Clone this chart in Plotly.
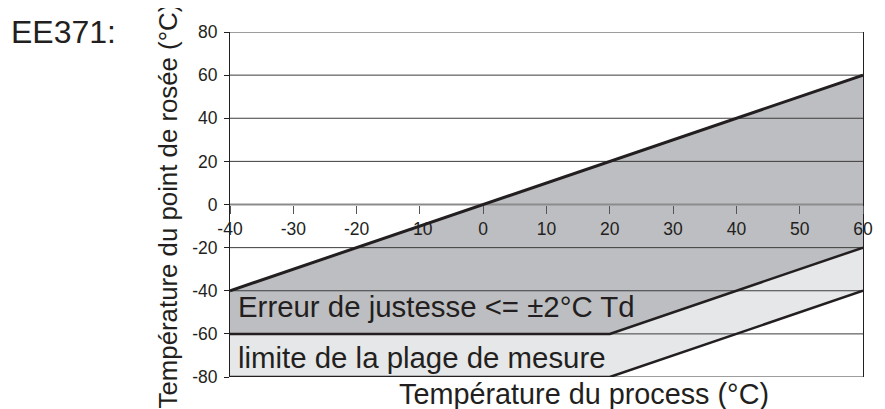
import plotly.graph_objects as go

# ---- data ----
x_ticks = [-40, -30, -20, -10, 0, 10, 20, 30, 40, 50, 60]
x_tick_labels = ["-40", "-30", "-20", "-10", "0", "10", "20", "30", "40", "50", "60"]
y_ticks = [80, 60, 40, 20, 0, -20, -40, -60, -80]
y_tick_labels = ["80", "60", "40", "20", "0", "-20", "-40", "-60", "-80"]

# upper limit of the accuracy zone (dew point = process temperature)
upper_x = [-40, 60]
upper_y = [-40, 60]

# lower limit of the accuracy zone (±2°C Td)
acc_x = [-40, 20, 60]
acc_y = [-60, -60, -20]

# lower limit of the measuring range
rng_x = [-40, 20, 60]
rng_y = [-80, -80, -40]

label_acc = "Erreur de justesse <= ±2°C Td"
label_rng = "limite de la plage de mesure"
title_x = "Température du process (°C)"
title_y = "Température du point de rosée (°C)"
model = "EE371:"

DARK = "#bdbec1"
LIGHT = "#e6e7e8"
INK = "#231f20"
GRID = "#3c3c3c"
FONT = "Liberation Sans, Arial, sans-serif"

fig = go.Figure()

# dark zone: upper limit line then back along accuracy limit
fig.add_trace(go.Scatter(
    x=upper_x + acc_x[::-1], y=upper_y + acc_y[::-1],
    fill="toself", fillcolor=DARK, line=dict(width=0),
    mode="lines", hoverinfo="skip", showlegend=False))

# light zone: between accuracy limit and measuring range limit
fig.add_trace(go.Scatter(
    x=acc_x + rng_x[::-1], y=acc_y + rng_y[::-1],
    fill="toself", fillcolor=LIGHT, line=dict(width=0),
    mode="lines", hoverinfo="skip", showlegend=False))

# grid lines drawn above the fills
for v in y_ticks:
    if v == 0:
        continue
    fig.add_trace(go.Scatter(
        x=[x_ticks[0], x_ticks[-1]], y=[v, v], mode="lines",
        line=dict(color=GRID, width=1), hoverinfo="skip", showlegend=False))

# zero line
fig.add_trace(go.Scatter(
    x=[x_ticks[0], x_ticks[-1]], y=[0, 0], mode="lines",
    line=dict(color="#8c8c8c", width=2), hoverinfo="skip", showlegend=False))

# boundary lines
fig.add_trace(go.Scatter(x=upper_x, y=upper_y, mode="lines",
                         line=dict(color=INK, width=3), hoverinfo="skip", showlegend=False))
fig.add_trace(go.Scatter(x=acc_x, y=acc_y, mode="lines",
                         line=dict(color=INK, width=2.5), hoverinfo="skip", showlegend=False))
fig.add_trace(go.Scatter(x=rng_x, y=rng_y, mode="lines",
                         line=dict(color=INK, width=2.5), hoverinfo="skip", showlegend=False))

# the page body adds an 8px offset, so the figure is 8px smaller than the window
fig.update_layout(
    width=877, height=401,
    margin=dict(l=222, r=12, t=24, b=32),
    paper_bgcolor="white", plot_bgcolor="white",
    font=dict(family=FONT, color=INK),
    showlegend=False,
    xaxis=dict(
        range=[x_ticks[0], x_ticks[-1]], tickvals=x_ticks, ticktext=x_tick_labels,
        anchor="free", position=0.5,
        showgrid=False, zeroline=False, showline=False,
        ticks="outside", ticklen=8, tickcolor="#555555", tickwidth=1,
        tickfont=dict(size=17.5, color=INK, family=FONT),
    ),
    yaxis=dict(
        range=[y_ticks[-1], y_ticks[0]], tickvals=y_ticks, ticktext=y_tick_labels,
        showgrid=False, zeroline=False,
        showline=True, linecolor=INK, linewidth=1, mirror=True,
        ticks="outside", ticklen=5, tickcolor=INK, tickwidth=1,
        ticklabelstandoff=3,
        tickfont=dict(size=17.5, color=INK, family=FONT),
    ),
    annotations=[
        dict(text=label_acc, x=acc_x[0], y=(upper_y[0] + acc_y[0]) / 2,
             xref="x", yref="y", xanchor="left", yanchor="middle",
             xshift=6, yshift=5.5, showarrow=False,
             font=dict(size=29.4, color=INK, family=FONT)),
        dict(text=label_rng, x=rng_x[0], y=(acc_y[0] + rng_y[0]) / 2,
             xref="x", yref="y", xanchor="left", yanchor="middle",
             xshift=6, yshift=-2, showarrow=False,
             font=dict(size=29.4, color=INK, family=FONT)),
        dict(text=title_x, x=0.559, y=-0.048, xref="paper", yref="paper",
             xanchor="center", yanchor="middle", showarrow=False,
             font=dict(size=28.8, color=INK, family=FONT)),
        dict(text=title_y, x=0, y=0.4945, xref="paper", yref="paper",
             xshift=-62, xanchor="center", yanchor="middle", textangle=-90,
             showarrow=False, font=dict(size=25.8, color=INK, family=FONT)),
        dict(text=model, x=-0.3375, y=1.0, xref="paper", yref="paper",
             xshift=-7, xanchor="left", yanchor="middle", showarrow=False,
             font=dict(size=32, color=INK, family=FONT)),
    ],
)

fig.write_html("out.html")
